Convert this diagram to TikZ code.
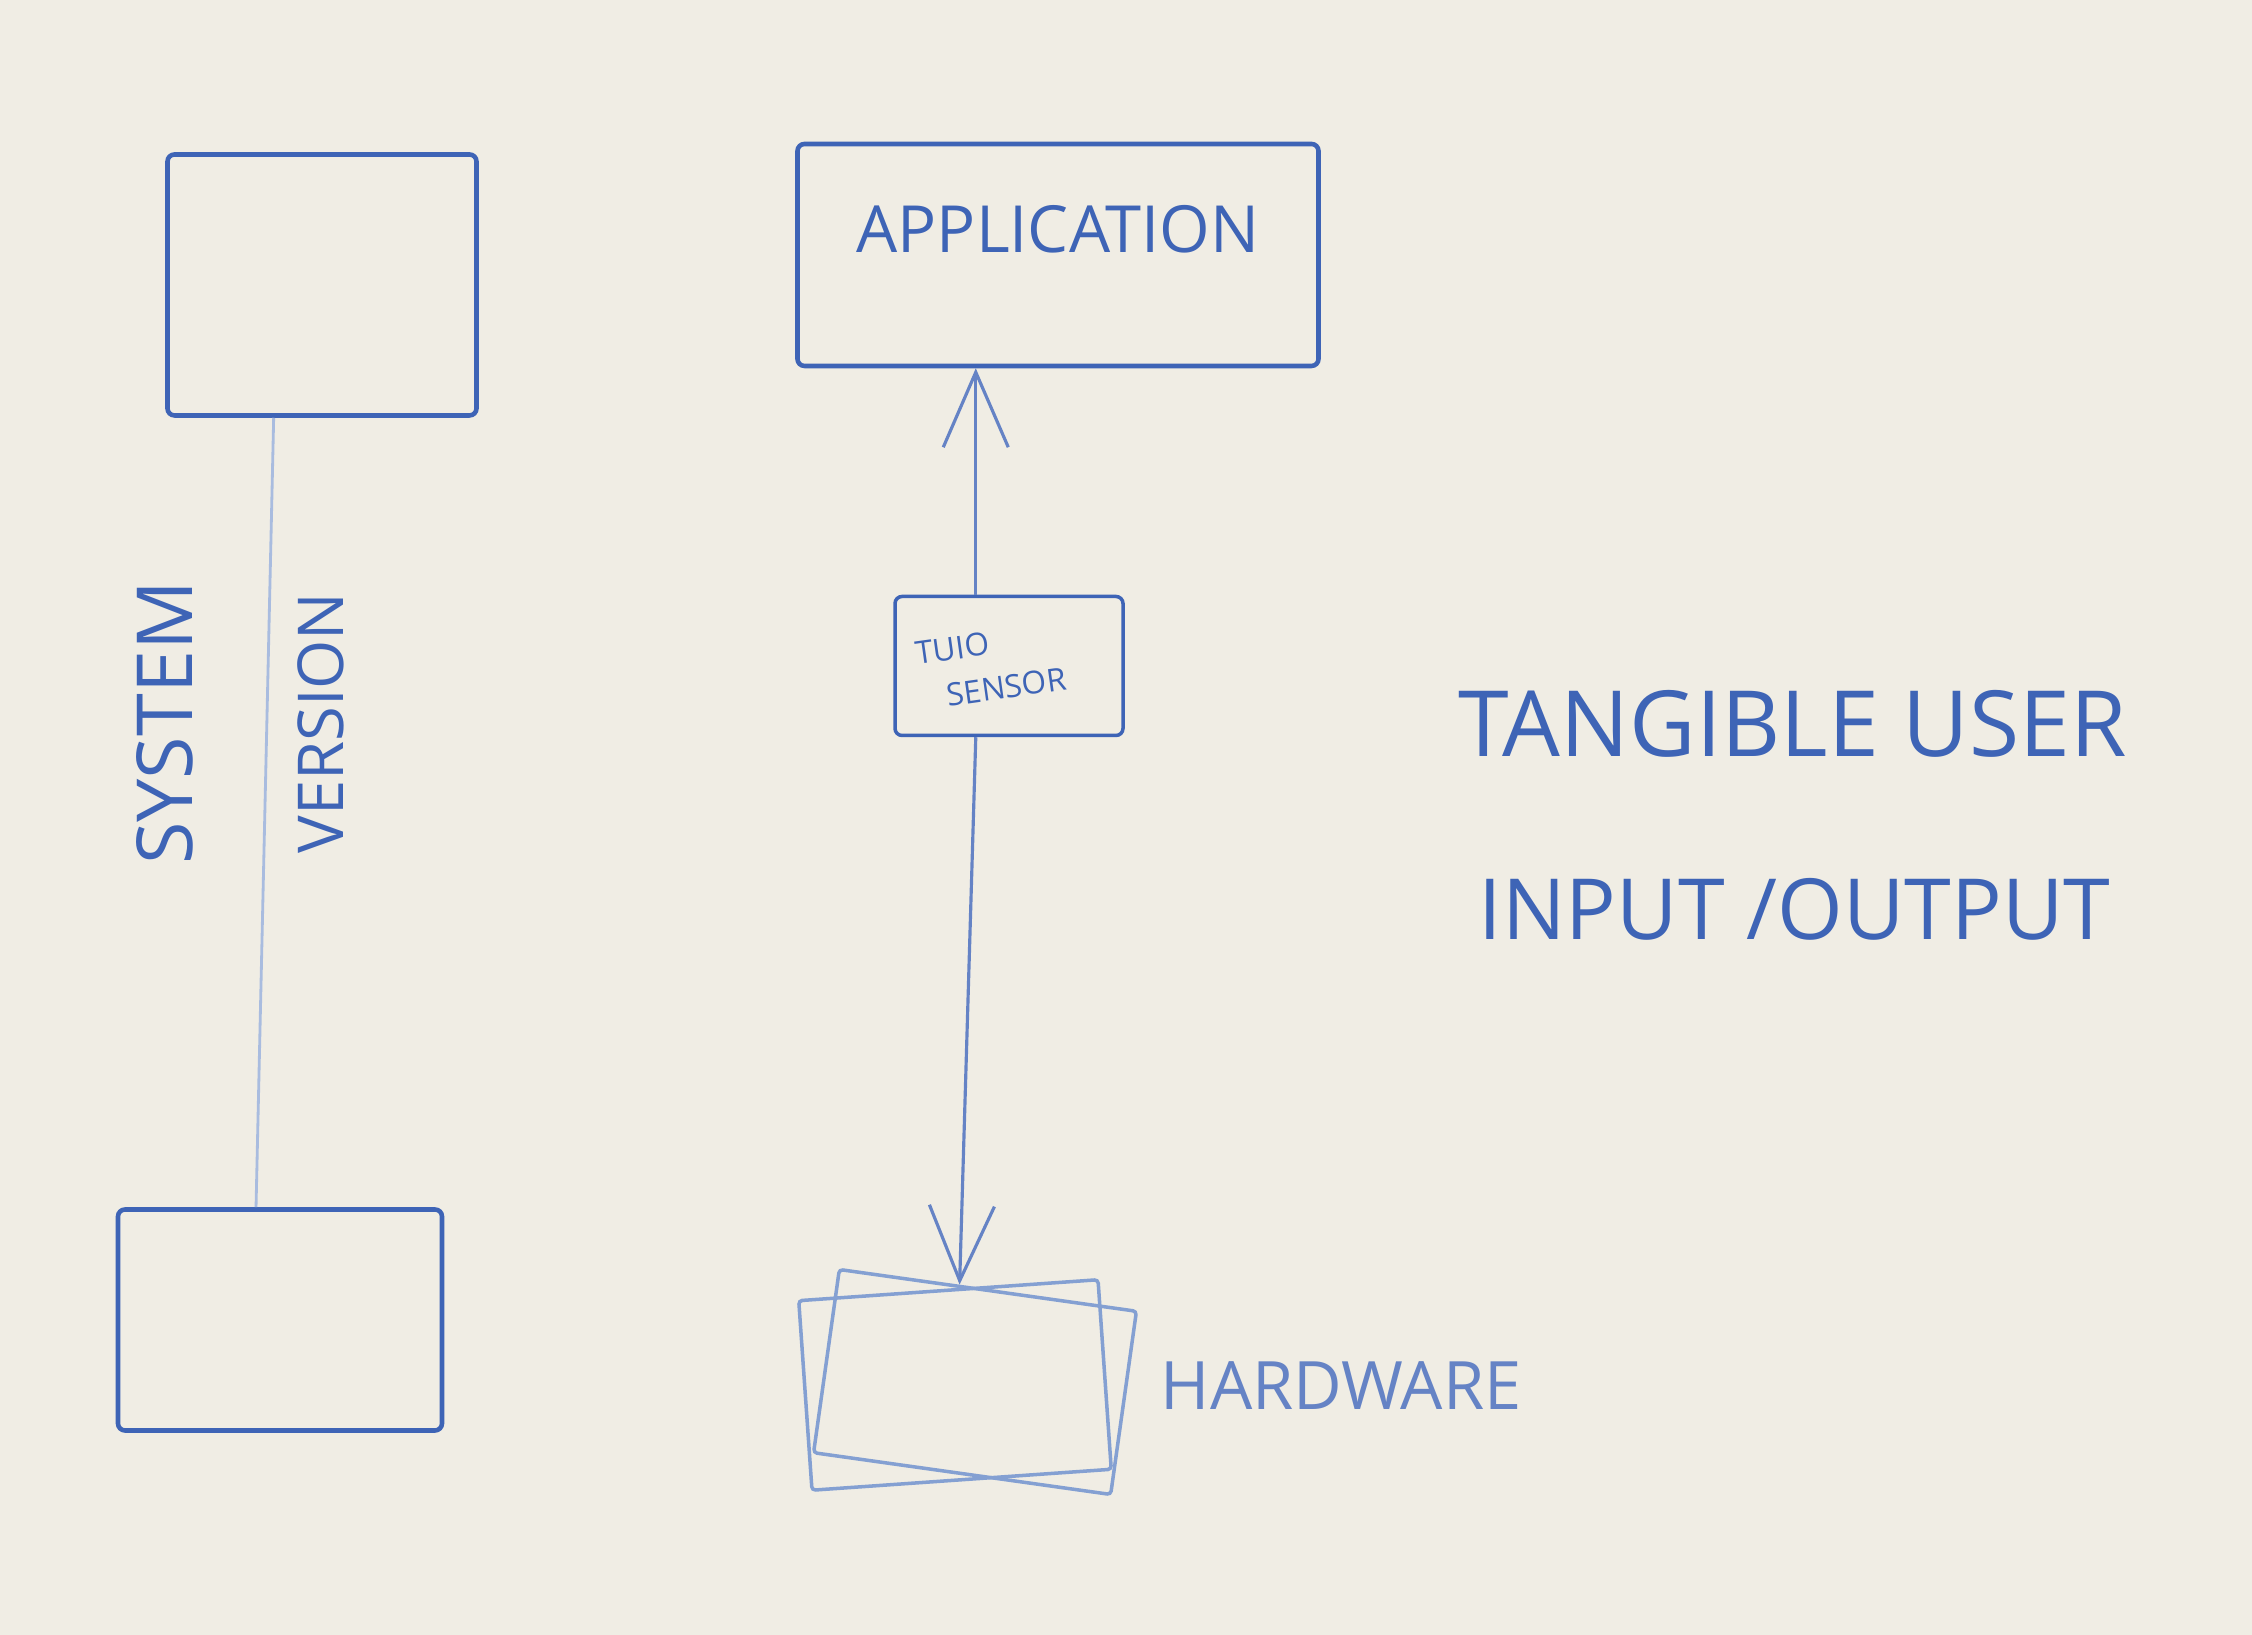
\documentclass[tikz,border=0pt]{standalone}
\usepackage{fontspec}
\setmainfont{Open Sans}
\usepackage{tikz}
\usetikzlibrary{arrows.meta,positioning,calc}
\definecolor{markerblue}{RGB}{62,100,182}
\definecolor{fadeblue}{RGB}{132,160,210}
\definecolor{boardwhite}{RGB}{240,237,228}

\begin{document}
\begin{tikzpicture}[
      node distance=0.3cm and 0.6cm,
      box/.style={draw=markerblue,line width=1.3pt,rounded corners=2pt},
      faintbox/.style={draw=fadeblue,line width=1pt,rounded corners=1pt},
      hand/.style={text=markerblue,inner sep=0pt},
      arr/.style={-{Straight Barb[length=7.5mm,width=6.5mm]},line width=0.9pt,markerblue!80},
      link/.style={line width=0.8pt,fadeblue!70}
    ]
    \useasboundingbox (0,0) rectangle (22.52,16.35);
    \fill[boardwhite] (0,0) rectangle (22.52,16.35);

    \node[box,minimum width=3.09cm,minimum height=2.61cm] (sysbox) at (3.22,13.50) {};
    \node[box,minimum width=3.24cm,minimum height=2.21cm] (devbox) at (2.80,3.15) {};
    \node[box,minimum width=5.21cm,minimum height=2.22cm] (app) at (10.58,13.80) {};
    \node[hand,font=\fontsize{18.5}{20}\selectfont] (appname) at ([yshift=0.26cm]app.center) {APPLICATION};
    \node[box,line width=1pt,minimum width=2.28cm,minimum height=1.39cm] (tuio) at (10.09,9.69) {};
    \node[hand,rotate=8,align=left,font=\fontsize{9}{13}\selectfont] (tuiolbl) at ([xshift=-0.18cm]tuio.center) {TUIO\\\hspace{0.25cm}SENSOR};

    % two sheets drawn on top of each other
    \node[faintbox,minimum width=3.0cm,minimum height=1.9cm,rotate=4] (hwback) at (9.55,2.50) {};
    \node[faintbox,minimum width=3.0cm,minimum height=1.85cm,rotate=-8] (hw) at (9.75,2.53) {};
    \node[hand,text=markerblue!80,anchor=west,font=\fontsize{19}{20}\selectfont] (hwlbl) at (11.60,2.49) {HARDWARE};

    \node[hand,anchor=west,align=left,font=\fontsize{24}{52}\selectfont] (tuitext) at (14.58,8.20)
      {{\fontsize{26}{52}\selectfont TANGIBLE USER}\\\hspace{0.2cm}INPUT /OUTPUT};

    \draw[link] (sysbox.250) -- (devbox.102);
    \node[hand,rotate=90,align=center,font=\fontsize{18}{43}\selectfont] (syslbl) at (2.40,9.12)
      {{\fontsize{22}{43}\selectfont SYSTEM}\\VERSION};

    \draw[arr] (tuio.115) -- (tuio.115 |- app.south);
    \draw[arr] (tuio.245) -- (hw.107);

  \end{tikzpicture}
\end{document}
